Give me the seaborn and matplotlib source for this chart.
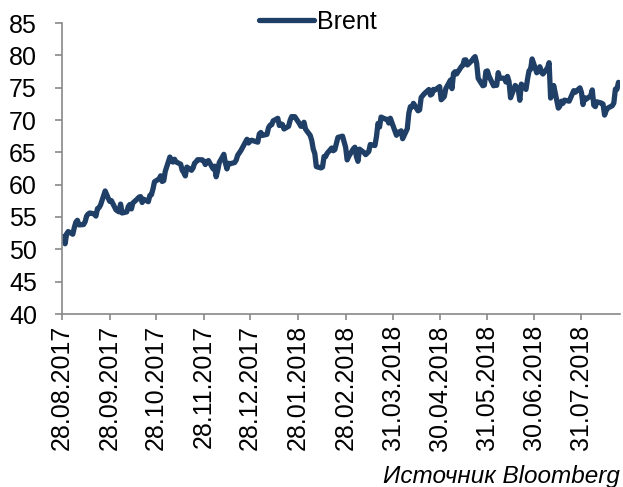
import matplotlib
matplotlib.use("Agg")
import matplotlib.pyplot as plt
import numpy as np
import pandas as pd
import seaborn as sns
from matplotlib.lines import Line2D

# ---- data (Brent, USD/bbl, daily closes) ----
start_date = "2017-08-28"
end_date = "2018-08-24"
holidays = ["2017-12-25", "2018-01-01", "2018-03-30"]

brent = [
    51.89, 52.00, 50.86, 52.38, 52.75,
    52.34, 53.38, 54.20, 54.49, 53.78,
    53.84, 54.27, 55.16, 55.47, 55.62,
    55.48, 55.14, 56.29, 56.43, 56.86,
    59.02, 58.44, 57.90, 57.41, 57.54,
    56.12, 55.94, 55.80, 57.00, 55.62,
    55.79, 56.61, 56.94, 56.25, 57.17,
    57.82, 58.08, 58.15, 57.24, 57.75,
    57.37, 58.33, 58.44, 59.30, 60.44,
    60.90, 61.37, 60.49, 60.62, 62.07,
    64.27, 63.69, 63.49, 63.93, 63.52,
    63.16, 62.21, 61.87, 61.36, 62.72,
    62.22, 62.57, 63.32, 63.55, 63.86,
    63.84, 63.61, 63.11, 63.57, 63.73,
    62.45, 62.86, 61.22, 62.20, 63.40,
    64.69, 63.34, 62.44, 63.31, 63.23,
    63.42, 63.80, 64.56, 64.90, 65.25,
    67.02, 66.44, 66.72, 66.87,
    66.57, 67.84, 68.07, 67.62,
    67.78, 68.82, 69.20, 69.26, 69.87,
    70.26, 69.15, 69.38, 69.31, 68.61,
    69.03, 69.96, 70.53, 70.42, 70.52,
    69.46, 69.02, 69.05, 69.65, 68.58,
    67.62, 66.86, 65.51, 64.81, 62.79,
    62.59, 62.72, 64.36, 64.33, 64.84,
    65.67, 65.25, 65.42, 66.39, 67.31,
    67.50, 66.63, 65.78, 63.83, 64.37,
    65.54, 65.79, 64.34, 63.61, 65.49,
    64.95, 64.64, 64.89, 65.12, 66.21,
    66.05, 67.42, 69.47, 68.91, 70.45,
    70.12, 70.11, 69.53, 70.27,
    67.64, 68.12, 68.02, 68.33, 67.11,
    68.65, 71.04, 72.06, 72.02, 72.58,
    71.42, 71.58, 73.48, 73.78, 74.06,
    74.71, 73.86, 74.00, 74.74, 74.64,
    75.17, 73.13, 73.36, 73.62, 74.87,
    76.17, 74.85, 77.21, 77.47, 77.12,
    78.23, 78.43, 79.28, 79.30, 78.51,
    79.22, 79.57, 79.80, 78.79, 76.44,
    75.30, 75.39, 77.50, 77.59, 76.79,
    75.29, 75.38, 75.36, 77.32, 76.46,
    76.46, 75.88, 76.74, 75.94, 73.44,
    75.34, 75.08, 74.74, 73.05, 75.55,
    74.73, 76.31, 77.62, 77.85, 79.44,
    77.30, 77.76, 78.24, 77.39, 77.11,
    78.07, 78.86, 73.40, 74.45, 75.33,
    71.84, 72.16, 72.90, 72.58, 73.07,
    72.91, 73.44, 73.93, 74.54, 74.29,
    74.97, 74.25, 72.39, 73.45, 73.21,
    73.75, 74.65, 72.28, 72.07, 72.81,
    72.61, 72.46, 70.76, 71.43, 71.83,
    72.21, 72.63, 74.78, 74.73, 75.82,
]

tick_dates = ["2017-08-28", "2017-09-28", "2017-10-28", "2017-11-28",
              "2017-12-28", "2018-01-28", "2018-02-28", "2018-03-31",
              "2018-04-30", "2018-05-31", "2018-06-30", "2018-07-31"]
y_ticks = [40, 45, 50, 55, 60, 65, 70, 75, 80, 85]
series_name = "Brent"
source_text = "Источник Bloomberg"

# ---- build table ----
dates = pd.bdate_range(start_date, end_date)
dates = dates[~dates.isin(pd.to_datetime(holidays))]
n = min(len(dates), len(brent))
df = pd.DataFrame({"date": dates[:n], "value": brent[:n], "series": series_name})

# ---- style ----
sns.set_style("white")
plt.rcParams["font.family"] = ["Liberation Sans", "DejaVu Sans"]
plt.rcParams["text.color"] = "black"
plt.rcParams["xtick.color"] = "black"
plt.rcParams["ytick.color"] = "black"

W, H = 623, 487
fig = plt.figure(figsize=(W / 100, H / 100), dpi=100)
left, right, top, bottom = 62, 620, 23, 314
ax = fig.add_axes([left / W, 1 - bottom / H, (right - left) / W, (bottom - top) / H])

line_color = "#1F3F66"
lw = 3.8
sns.lineplot(data=df, x="date", y="value", ax=ax, color=line_color,
             linewidth=lw, legend=False)

ax.set_xlim(pd.Timestamp("2017-08-28"), pd.Timestamp("2018-08-25"))
ax.set_ylim(40, 85)
ax.set_yticks(y_ticks)
ax.set_yticklabels([str(v) for v in y_ticks])
td = pd.to_datetime(tick_dates)
ax.set_xticks(td)
ax.set_xticklabels([d.strftime("%d.%m.%Y") for d in td], rotation=90)
ax.set_xlabel("")
ax.set_ylabel("")

spine_color = "#898989"
for s in ["top", "right"]:
    ax.spines[s].set_visible(False)
for s in ["left", "bottom"]:
    ax.spines[s].set_color(spine_color)
    ax.spines[s].set_linewidth(1.2)

ax.tick_params(axis="y", direction="out", length=5, width=1.2,
               color=spine_color, labelcolor="black", labelsize=18, pad=13, left=True)
ax.tick_params(axis="x", direction="out", length=4, width=1.2,
               color=spine_color, labelcolor="black", labelsize=18, pad=4, bottom=True)
ax.grid(False)

handle = Line2D([0], [0], color=line_color, linewidth=lw)
fig.legend([handle], [series_name], loc="center",
           bbox_to_anchor=(318 / W, 1 - 22 / H), frameon=False,
           fontsize=18, handlelength=2.2, handletextpad=0.1,
           borderaxespad=0, borderpad=0, labelcolor="black")

fig.text(620 / W, 1 - 476 / H, source_text, ha="right", va="center",
         fontsize=17.5, style="italic", color="black")

fig.savefig("out.png", dpi=100)
